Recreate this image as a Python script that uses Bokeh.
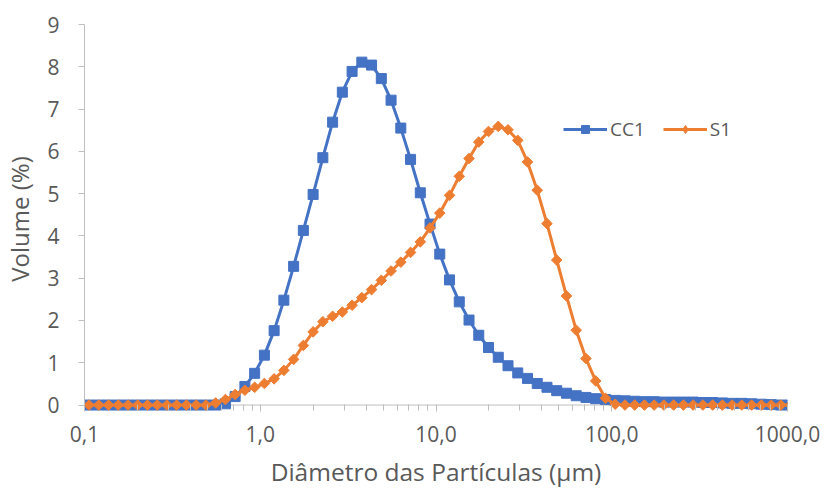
from bokeh.plotting import figure
from bokeh.models import (Range1d, FixedTicker, CustomJSTickFormatter,
                          Legend, LegendItem, Span)
from bokeh.embed import file_html
from bokeh.resources import INLINE
import numpy as np

# Particle size classes (µm, class centres) and volume fractions (%)
diameter_um = [0.1061, 0.1206, 0.1370, 0.1556, 0.1768, 0.2009, 0.2282, 0.2593,
               0.2945, 0.3346, 0.3802, 0.4319, 0.4907, 0.5576, 0.6335, 0.7198,
               0.8178, 0.9293, 1.0558, 1.1995, 1.3628, 1.5484, 1.7592, 1.9988,
               2.2710, 2.5802, 2.9316, 3.3308, 3.7844, 4.2997, 4.8853, 5.5505,
               6.3064, 7.1652, 8.1409, 9.2495, 10.509, 11.940, 13.566, 15.413,
               17.512, 19.897, 22.607, 25.685, 29.183, 33.157, 37.672, 42.802,
               48.631, 55.253, 62.777, 71.326, 81.039, 92.075, 104.61, 118.86,
               135.05, 153.44, 174.33, 198.07, 225.04, 255.69, 290.51, 330.07,
               375.01, 426.08, 484.10, 550.03, 624.93, 710.03, 806.72, 916.57,
               1041.4]

cc1 = [0, 0, 0, 0, 0, 0, 0, 0, 0, 0, 0, 0, 0, 0,
       0.03, 0.20, 0.44, 0.75, 1.18, 1.76, 2.48, 3.28, 4.13, 4.98, 5.85, 6.69,
       7.40, 7.89, 8.11, 8.04, 7.72, 7.21, 6.55, 5.81, 5.02, 4.28, 3.57, 2.96,
       2.44, 2.01, 1.65, 1.36, 1.13, 0.93, 0.76, 0.63, 0.51, 0.42, 0.34, 0.28,
       0.22, 0.18, 0.15, 0.13, 0.11, 0.10, 0.09, 0.08, 0.08, 0.07, 0.07, 0.07,
       0.07, 0.06, 0.06, 0.05, 0.04, 0.04, 0.03, 0.02, 0.01, 0.00, 0.00]

s1 = [0, 0, 0, 0, 0, 0, 0, 0, 0, 0, 0, 0, 0,
      0.05, 0.13, 0.25, 0.35, 0.42, 0.51, 0.62, 0.82, 1.08, 1.41, 1.73, 1.97,
      2.10, 2.20, 2.36, 2.54, 2.73, 2.95, 3.17, 3.38, 3.61, 3.86, 4.19, 4.54,
      4.96, 5.41, 5.83, 6.22, 6.47, 6.59, 6.51, 6.26, 5.75, 5.08, 4.29, 3.43,
      2.58, 1.77, 1.10, 0.57, 0.16, 0.02,
      0, 0, 0, 0, 0, 0, 0, 0, 0, 0, 0, 0, 0, 0, 0, 0, 0, 0]

x_major = [0.1, 1, 10, 100, 1000]
x_minor = [m * d for d in [0.1, 1, 10, 100] for m in range(2, 10)]
y_ticks = list(range(0, 10))

FONT = "Open Sans"
TEXT = "#595959"
AXIS = "#BFBFBF"
BLUE = "#4472C4"
ORANGE = "#ED7D31"

# a little room below y=0 so markers sitting on the baseline are not cut
p = figure(width=826, height=491, x_axis_type="log",
           x_range=Range1d(0.1, 1000), y_range=Range1d(-0.2, 9),
           output_backend="svg", toolbar_location=None,
           min_border_left=83, min_border_right=39,
           min_border_top=24, min_border_bottom=78)
p.outline_line_color = None
p.xgrid.visible = False
p.ygrid.visible = False
p.background_fill_color = "white"
p.border_fill_color = "white"

# baseline at y = 0 acts as the x axis line
baseline = Span(location=0, dimension="width", line_color=AXIS, line_width=1,
                level="underlay")
p.add_layout(baseline)

# x axis: log scale, decade labels with decimal comma; ticks hang from y = 0
xa = p.xaxis[0]
xa.ticker = FixedTicker(ticks=x_major, minor_ticks=x_minor)
xa.formatter = CustomJSTickFormatter(code="return tick.toFixed(1).replace('.', ',');")
xa.axis_label = "Diâmetro das Partículas (µm)"
xa.axis_line_color = None
xa.major_tick_line_color = AXIS
xa.minor_tick_line_color = AXIS
xa.major_tick_in = 9
xa.major_tick_out = -2
xa.minor_tick_in = 9
xa.minor_tick_out = -3
xa.major_label_standoff = 14
xa.major_label_text_font = FONT
xa.major_label_text_font_size = "21px"
xa.major_label_text_color = TEXT
xa.axis_label_text_font = FONT
xa.axis_label_text_font_size = "24.5px"
xa.axis_label_text_font_style = "normal"
xa.axis_label_text_color = TEXT
xa.axis_label_standoff = 10

ya = p.yaxis[0]
ya.bounds = (0, 9)
ya.ticker = FixedTicker(ticks=y_ticks, minor_ticks=[])
ya.axis_label = "Volume (%)"
ya.axis_line_color = AXIS
ya.major_tick_line_color = AXIS
ya.minor_tick_line_color = None
ya.major_tick_in = 0
ya.major_tick_out = 6
ya.major_label_standoff = 19
ya.major_label_text_font = FONT
ya.major_label_text_font_size = "21px"
ya.major_label_text_color = TEXT
ya.axis_label_text_font = FONT
ya.axis_label_text_font_size = "24px"
ya.axis_label_text_font_style = "normal"
ya.axis_label_text_color = TEXT
ya.axis_label_standoff = 8

# series
l_cc1 = p.line(diameter_um, cc1, line_color=BLUE, line_width=3)
m_cc1 = p.scatter(diameter_um, cc1, marker="square", size=10,
                  fill_color=BLUE, line_color=BLUE)
l_s1 = p.line(diameter_um, s1, line_color=ORANGE, line_width=3)
m_s1 = p.scatter(diameter_um, s1, marker="square", size=7.5, angle=np.pi / 4,
                 fill_color=ORANGE, line_color=ORANGE)
# legend swatch for the diamond markers (legend glyphs ignore rotation);
# its single point has no coordinates, so nothing shows in the plot area
key_s1 = p.scatter(x=[np.nan], y=[np.nan], marker="diamond", size=12,
                   fill_color=ORANGE, line_color=ORANGE)

legend = Legend(items=[LegendItem(label="CC1", renderers=[l_cc1, m_cc1]),
                       LegendItem(label="S1", renderers=[l_s1, key_s1])],
                orientation="horizontal", location=(479, 271),
                border_line_color=None, background_fill_alpha=0,
                label_text_font=FONT, label_text_font_size="19px",
                label_text_color=TEXT, glyph_width=44, glyph_height=20,
                label_standoff=3, spacing=18, padding=0, margin=0)
p.add_layout(legend)

open("out.html", "w").write(file_html(p, INLINE))
